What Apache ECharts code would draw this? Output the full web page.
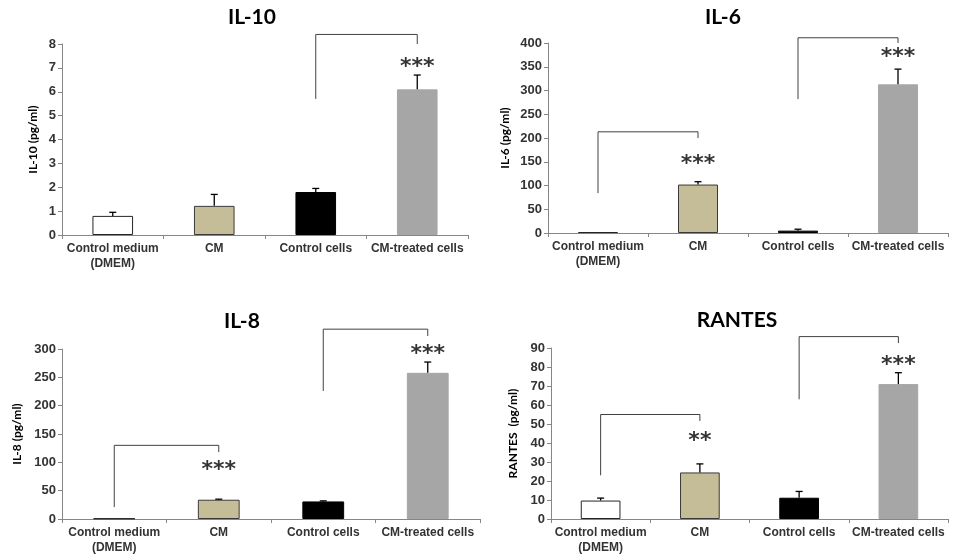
<!DOCTYPE html>
<html>
<head>
<meta charset="utf-8">
<script src="https://cdn.jsdelivr.net/npm/echarts@6/dist/echarts.min.js"></script>
<style>
  html, body { margin: 0; padding: 0; background: #fff; }
  #chart { width: 955px; height: 560px; }
</style>
</head>
<body>
<div id="chart"></div>
<script>
// Groups shown on every panel
const categories = ['Control medium\n(DMEM)', 'CM', 'Control cells', 'CM-treated cells'];

// Mean concentrations (pg/ml) and mean + SD
const il10Mean = [0.8, 1.22, 1.8, 6.1];
const il10Upper = [0.95, 1.7, 1.95, 6.7];
const il6Mean = [2, 102, 5, 313];
const il6Upper = [2, 108, 8, 345];
const il8Mean = [1, 34, 31, 258];
const il8Upper = [1, 35, 32, 277];
const rantesMean = [9.7, 24.5, 11.2, 71];
const rantesUpper = [11, 29, 14.5, 77];

// Significance brackets: [from group, to group, left foot, top, right foot]
const il10Brackets = [[2, 3, 5.7, 8.4, 8.0]];
const il6Brackets = [[0, 1, 84, 213, 200], [2, 3, 282, 411, 400]];
const il8Brackets = [[0, 1, 21, 130, 118], [2, 3, 226, 335, 323]];
const rantesBrackets = [[0, 1, 23, 55, 51.6], [2, 3, 63, 96, 92.6]];

// Significance marks: [group, level, text]
const il10Stars = [[3, 7.2, '***']];
const il6Stars = [[1, 154, '***'], [3, 379, '***']];
const il8Stars = [[1, 93, '***'], [3, 298, '***']];
const rantesStars = [[1, 43, '**'], [3, 83, '***']];

// Axis ranges
const il10Axis = { max: 8, interval: 1 };
const il6Axis = { max: 400, interval: 50 };
const il8Axis = { max: 300, interval: 50 };
const rantesAxis = { max: 90, interval: 10 };

const barColors = ['#ffffff', '#c4bd97', '#000000', '#a6a6a6'];
const barBorders = ['#262626', '#3a3a3a', '#000000', '#a6a6a6'];

const panels = [
  { title: 'IL-10', yName: 'IL-10 (pg/ml)', mean: il10Mean, upper: il10Upper, brackets: il10Brackets, stars: il10Stars, axis: il10Axis,
    grid: { left: 62, right: 487, top: 44, height: 191 }, titlePos: [247, 2], nameGap: 23 },
  { title: 'IL-6', yName: 'IL-6 (pg/ml)', mean: il6Mean, upper: il6Upper, brackets: il6Brackets, stars: il6Stars, axis: il6Axis,
    grid: { left: 548, right: 7, top: 43, height: 190 }, titlePos: [718, 2], nameGap: 37 },
  { title: 'IL-8', yName: 'IL-8 (pg/ml)', mean: il8Mean, upper: il8Upper, brackets: il8Brackets, stars: il8Stars, axis: il8Axis,
    grid: { left: 62, right: 475, top: 349, height: 170 }, titlePos: [237, 306], nameGap: 39 },
  { title: 'RANTES', yName: 'RANTES  (pg/ml)', mean: rantesMean, upper: rantesUpper, brackets: rantesBrackets, stars: rantesStars, axis: rantesAxis,
    grid: { left: 551, right: 7, top: 348, height: 171 }, titlePos: [732, 305], nameGap: 32 }
];

const axisGray = '#868686';
const labelFont = '"Liberation Sans", Arial, sans-serif';
const titleFont = 'Lato, "Open Sans", sans-serif';

const option = {
  animation: false,
  backgroundColor: '#ffffff',
  title: [], grid: [], xAxis: [], yAxis: [], series: []
};

panels.forEach((p, i) => {
  option.title.push({
    text: p.title, left: p.titlePos[0], top: p.titlePos[1], textAlign: 'center',
    textStyle: { fontFamily: titleFont, fontWeight: 'bold', fontSize: 21, color: '#000' }
  });
  option.grid.push(p.grid);
  option.xAxis.push({
    type: 'category', gridIndex: i, data: categories,
    axisLine: { lineStyle: { color: axisGray, width: 1 } },
    axisTick: { show: true, length: 4, lineStyle: { color: axisGray } },
    axisLabel: { interval: 0, margin: 6, fontFamily: labelFont, fontWeight: 'bold', fontSize: 12, color: '#333', lineHeight: 15 }
  });
  option.yAxis.push({
    type: 'value', gridIndex: i, min: 0, max: p.axis.max, interval: p.axis.interval,
    name: p.yName, nameLocation: 'middle', nameGap: p.nameGap, nameRotate: 90,
    nameTextStyle: { fontFamily: titleFont, fontWeight: 'bold', fontSize: 12, color: '#000' },
    axisLine: { show: true, lineStyle: { color: axisGray, width: 1 } },
    axisTick: { show: true, length: 4, lineStyle: { color: axisGray } },
    splitLine: { show: false },
    axisLabel: { margin: 6, fontFamily: labelFont, fontWeight: 'bold', fontSize: 13, color: '#333' }
  });

  // Bars
  option.series.push({
    type: 'bar', xAxisIndex: i, yAxisIndex: i, barWidth: '40%',
    data: p.mean.map((v, k) => ({
      value: v,
      itemStyle: { color: barColors[k], borderColor: barBorders[k], borderWidth: 1 }
    })),
    z: 2
  });

  // Upper SD whiskers
  option.series.push({
    type: 'custom', xAxisIndex: i, yAxisIndex: i, z: 3,
    data: p.mean.map((v, k) => [k, v, p.upper[k]]),
    renderItem: function (params, api) {
      const base = api.coord([api.value(0), api.value(1)]);
      const top = api.coord([api.value(0), api.value(2)]);
      if (Math.abs(base[1] - top[1]) < 0.5) return null;
      const style = { stroke: '#000', lineWidth: 1.3 };
      return {
        type: 'group',
        children: [
          { type: 'line', shape: { x1: base[0], y1: base[1], x2: top[0], y2: top[1] }, style: style },
          { type: 'line', shape: { x1: top[0] - 3.5, y1: top[1], x2: top[0] + 3.5, y2: top[1] }, style: style }
        ]
      };
    }
  });

  // Comparison brackets
  p.brackets.forEach(b => {
    option.series.push({
      type: 'line', xAxisIndex: i, yAxisIndex: i, clip: false, symbol: 'none', z: 4,
      lineStyle: { color: '#404040', width: 1 },
      data: [[b[0], b[2]], [b[0], b[3]], [b[1], b[3]], [b[1], b[4]]]
    });
  });

  // Significance asterisks
  option.series.push({
    type: 'scatter', xAxisIndex: i, yAxisIndex: i, symbolSize: 0, clip: false, z: 5,
    data: p.stars.map(s => ({ value: [s[0], s[1]], text: s[2] })),
    label: {
      show: true, position: 'inside',
      formatter: (d) => d.data.text,
      fontFamily: '"DejaVu Sans", sans-serif', fontWeight: 'bold', fontSize: 22, color: '#000',
      offset: [0, 4]
    }
  });
});

const chart = echarts.init(document.getElementById('chart'), null, { renderer: 'canvas' });
chart.setOption(option);
</script>
</body>
</html>
